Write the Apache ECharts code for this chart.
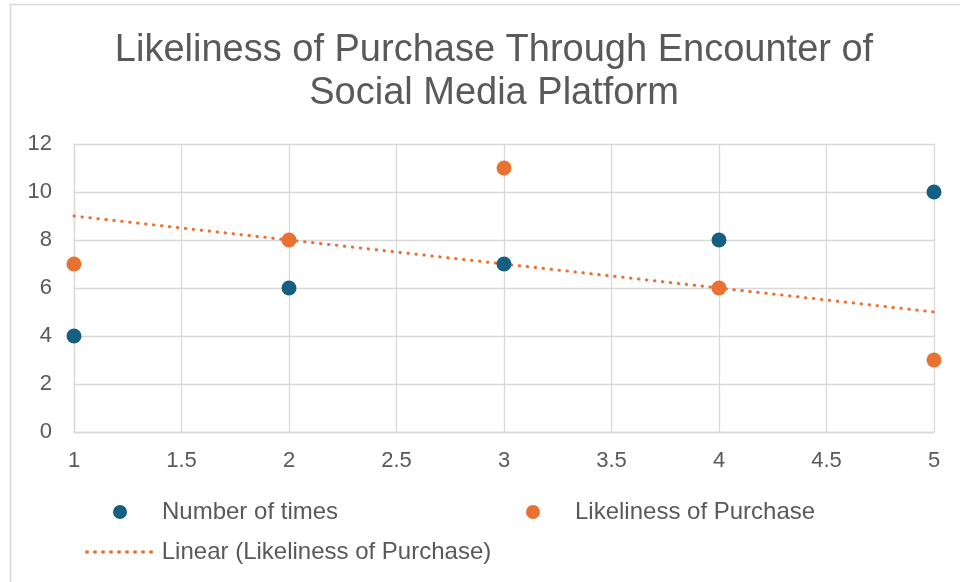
<!DOCTYPE html>
<html>
<head>
<meta charset="utf-8">
<script src="https://cdn.jsdelivr.net/npm/echarts@6/dist/echarts.min.js"></script>
<style>html,body{margin:0;padding:0;background:#fff;}#c{width:960px;height:582px;}</style>
</head>
<body>
<div id="c"></div>
<script>
var titleText = 'Likeliness of Purchase Through Encounter of\nSocial Media Platform';
var xValues = [1, 2, 3, 4, 5];
var numberOfTimes = [4, 6, 7, 8, 10];
var likeliness = [7, 8, 11, 6, 3];
var seriesNames = ['Number of times', 'Likeliness of Purchase', 'Linear (Likeliness of Purchase)'];

// least-squares linear trendline of the Likeliness series
function linearFit(xs, ys) {
  var n = xs.length, mx = 0, my = 0;
  for (var i = 0; i < n; i++) { mx += xs[i]; my += ys[i]; }
  mx /= n; my /= n;
  var sxy = 0, sxx = 0;
  for (var j = 0; j < n; j++) { sxy += (xs[j] - mx) * (ys[j] - my); sxx += (xs[j] - mx) * (xs[j] - mx); }
  var b = sxy / sxx, a = my - b * mx;
  var x0 = xs[0], x1 = xs[n - 1];
  return [[x0, a + b * x0], [x1, a + b * x1]];
}
var trend = linearFit(xValues, likeliness);

var BLUE = '#156082', ORANGE = '#E97132', TXT = '#595959', GRID = '#d9d9d9';
var FONT = '"Liberation Sans", Arial, sans-serif';

var chart = echarts.init(document.getElementById('c'), null, {renderer: 'canvas'});
var legendText = {color: TXT, fontSize: 24, fontFamily: FONT};
chart.setOption({
  animation: false,
  backgroundColor: '#fff',
  graphic: [{
    type: 'rect', shape: {x: 10.5, y: 4.5, width: 1000, height: 700},
    style: {fill: 'none', stroke: GRID, lineWidth: 1.5}, silent: true, z: -10
  }],
  title: {
    text: titleText, left: 489, top: 24, textAlign: 'center',
    textStyle: {color: TXT, fontSize: 38, fontWeight: 'normal', fontFamily: FONT, lineHeight: 43}
  },
  grid: {left: 74, right: 26, top: 144, bottom: 150, containLabel: false},
  xAxis: {
    type: 'value', min: 1, max: 5, interval: 0.5,
    axisLine: {show: true, lineStyle: {color: GRID, width: 1.3}},
    axisTick: {show: false},
    splitLine: {show: true, lineStyle: {color: GRID, width: 1.3}},
    axisLabel: {color: TXT, fontSize: 22, fontFamily: FONT, margin: 18}
  },
  yAxis: {
    type: 'value', min: 0, max: 12, interval: 2,
    axisLine: {show: true, lineStyle: {color: GRID, width: 1.3}},
    axisTick: {show: false},
    splitLine: {show: true, lineStyle: {color: GRID, width: 1.3}},
    axisLabel: {color: TXT, fontSize: 22, fontFamily: FONT, margin: 22}
  },
  legend: [
    {data: [seriesNames[0]], left: 113, top: 500, padding: 0, icon: 'circle', itemWidth: 14, itemHeight: 14,
     textStyle: Object.assign({padding: [0, 0, 0, 30]}, legendText)},
    {data: [seriesNames[1]], left: 526, top: 500, padding: 0, icon: 'circle', itemWidth: 14, itemHeight: 14,
     textStyle: Object.assign({padding: [0, 0, 0, 30]}, legendText)},
    {data: [seriesNames[2]], left: 85, top: 540, padding: 0, itemWidth: 70, itemHeight: 14,
     itemStyle: {opacity: 0},
     lineStyle: {width: 3.5},
     textStyle: legendText}
  ],
  series: [
    {
      name: seriesNames[2], type: 'line', data: trend, symbol: 'none', z: 1,
      lineStyle: {color: ORANGE, width: 3, type: [0.5, 7.5], cap: 'round'},
      itemStyle: {color: ORANGE}
    },
    {
      name: seriesNames[0], type: 'scatter', symbolSize: 15, z: 3,
      data: xValues.map(function (x, i) { return [x, numberOfTimes[i]]; }),
      itemStyle: {color: BLUE, opacity: 1}
    },
    {
      name: seriesNames[1], type: 'scatter', symbolSize: 15, z: 4,
      data: xValues.map(function (x, i) { return [x, likeliness[i]]; }),
      itemStyle: {color: ORANGE, opacity: 1}
    }
  ]
});
</script>
</body>
</html>
